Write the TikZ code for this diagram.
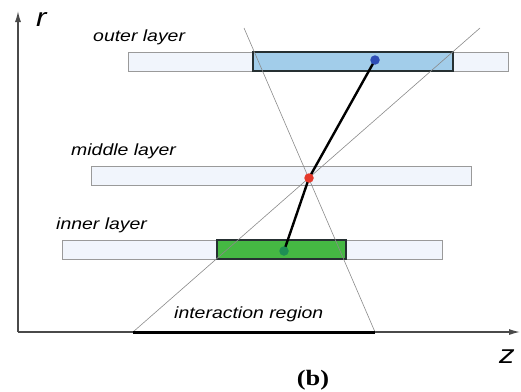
\documentclass[tikz,border=0pt]{standalone}
\usepackage{fontspec}
\setmainfont{Liberation Serif}
\newfontfamily\labfont{Liberation Sans}[FakeStretch=1.2]
\newfontfamily\capfont{Liberation Serif}[FakeStretch=1.2]
\usetikzlibrary{arrows.meta}
\definecolor{barfill}{HTML}{F1F5FC}
\definecolor{bargray}{HTML}{9A9A9A}
\definecolor{bluefill}{HTML}{A2CDEA}
\definecolor{greenfill}{HTML}{45B843}
\definecolor{darkedge}{HTML}{263032}
\definecolor{bluedot}{HTML}{2E4DB5}
\definecolor{reddot}{HTML}{E5392B}
\definecolor{greendot}{HTML}{1E8F55}
\definecolor{axisgray}{HTML}{4A4A4A}
\definecolor{thingray}{HTML}{8A8A8A}
\begin{document}
\begin{tikzpicture}[x=1pt,y=-1pt,
  layerbar/.style={draw=bargray, fill=barfill, line width=0.9pt, minimum height=19pt, inner sep=0, outer sep=0},
  hitbox/.style={draw=darkedge, line width=1.8pt, minimum height=19pt, inner sep=0, outer sep=0},
  lab/.style={font=\labfont\itshape\fontsize{16.2}{18}\selectfont, anchor=base west, inner sep=0},
  axlab/.style={font=\labfont\itshape\fontsize{26}{28}\selectfont, anchor=base west, inner sep=0},
  dot/.style={circle, fill=#1, inner sep=0, minimum size=9.5pt, outer sep=0},
  guide/.style={draw=thingray, line width=0.6pt},
  track/.style={draw=black, line width=2.4pt, line join=round},
  axis/.style={draw=axisgray, line width=1.3pt, -{Latex[length=11pt,width=6pt]}}
]
\useasboundingbox (0,0) rectangle (521,391);

% axes
\coordinate (O) at (18,332);
\coordinate (rtip) at (18,11);
\coordinate (ztip) at (520,332);
\draw[axis] (O) -- (rtip);
\draw[axis] (O) -- (ztip);
\node[axlab] (rlab) at (36,26) {r};
\node[axlab] (zlab) at (499,363) {z};

% layers
\node[layerbar, minimum width=380pt] (outer) at (318,61.5) {};
\node[hitbox, fill=bluefill, minimum width=200pt] (bluehit) at (353,61.5) {};
\node[layerbar, minimum width=380pt] (middle) at (281,175.5) {};
\node[layerbar, minimum width=380pt] (inner) at (252,249.5) {};
\node[hitbox, fill=greenfill, minimum width=129pt] (greenhit) at (281.5,249.5) {};

% labels
\node[lab] (outerlab) at (93,41.5) {outer layer};
\node[lab] (middlelab) at (71,155.5) {middle layer};
\node[lab] (innerlab) at (56,229.5) {inner layer};
\node[lab] (irlab) at (174,318) {interaction region};

% interaction region and guide lines
\coordinate (irL) at (133,332);
\coordinate (irR) at (375,332);
\coordinate (gA) at (480,28);
\coordinate (gB) at (244,28);
\draw[guide] (irL) -- (gA);
\draw[guide] (irR) -- (gB);
\draw[draw=black, line width=3pt] (irL) -- (irR);

% track and hits
\coordinate (pb) at (375,60);
\coordinate (pr) at (309,178);
\coordinate (pg) at (284,251);
\draw[track] (pb) -- (pr) -- (pg);
\node[dot=bluedot] (bdot) at (pb) {};
\node[dot=reddot] (rdot) at (pr) {};
\node[dot=greendot] (gdot) at (pg) {};

% caption
\node[font=\capfont\bfseries\fontsize{22}{24}\selectfont, anchor=base, inner sep=0] (cap) at (313,385) {(b)};
\end{tikzpicture}
\end{document}
